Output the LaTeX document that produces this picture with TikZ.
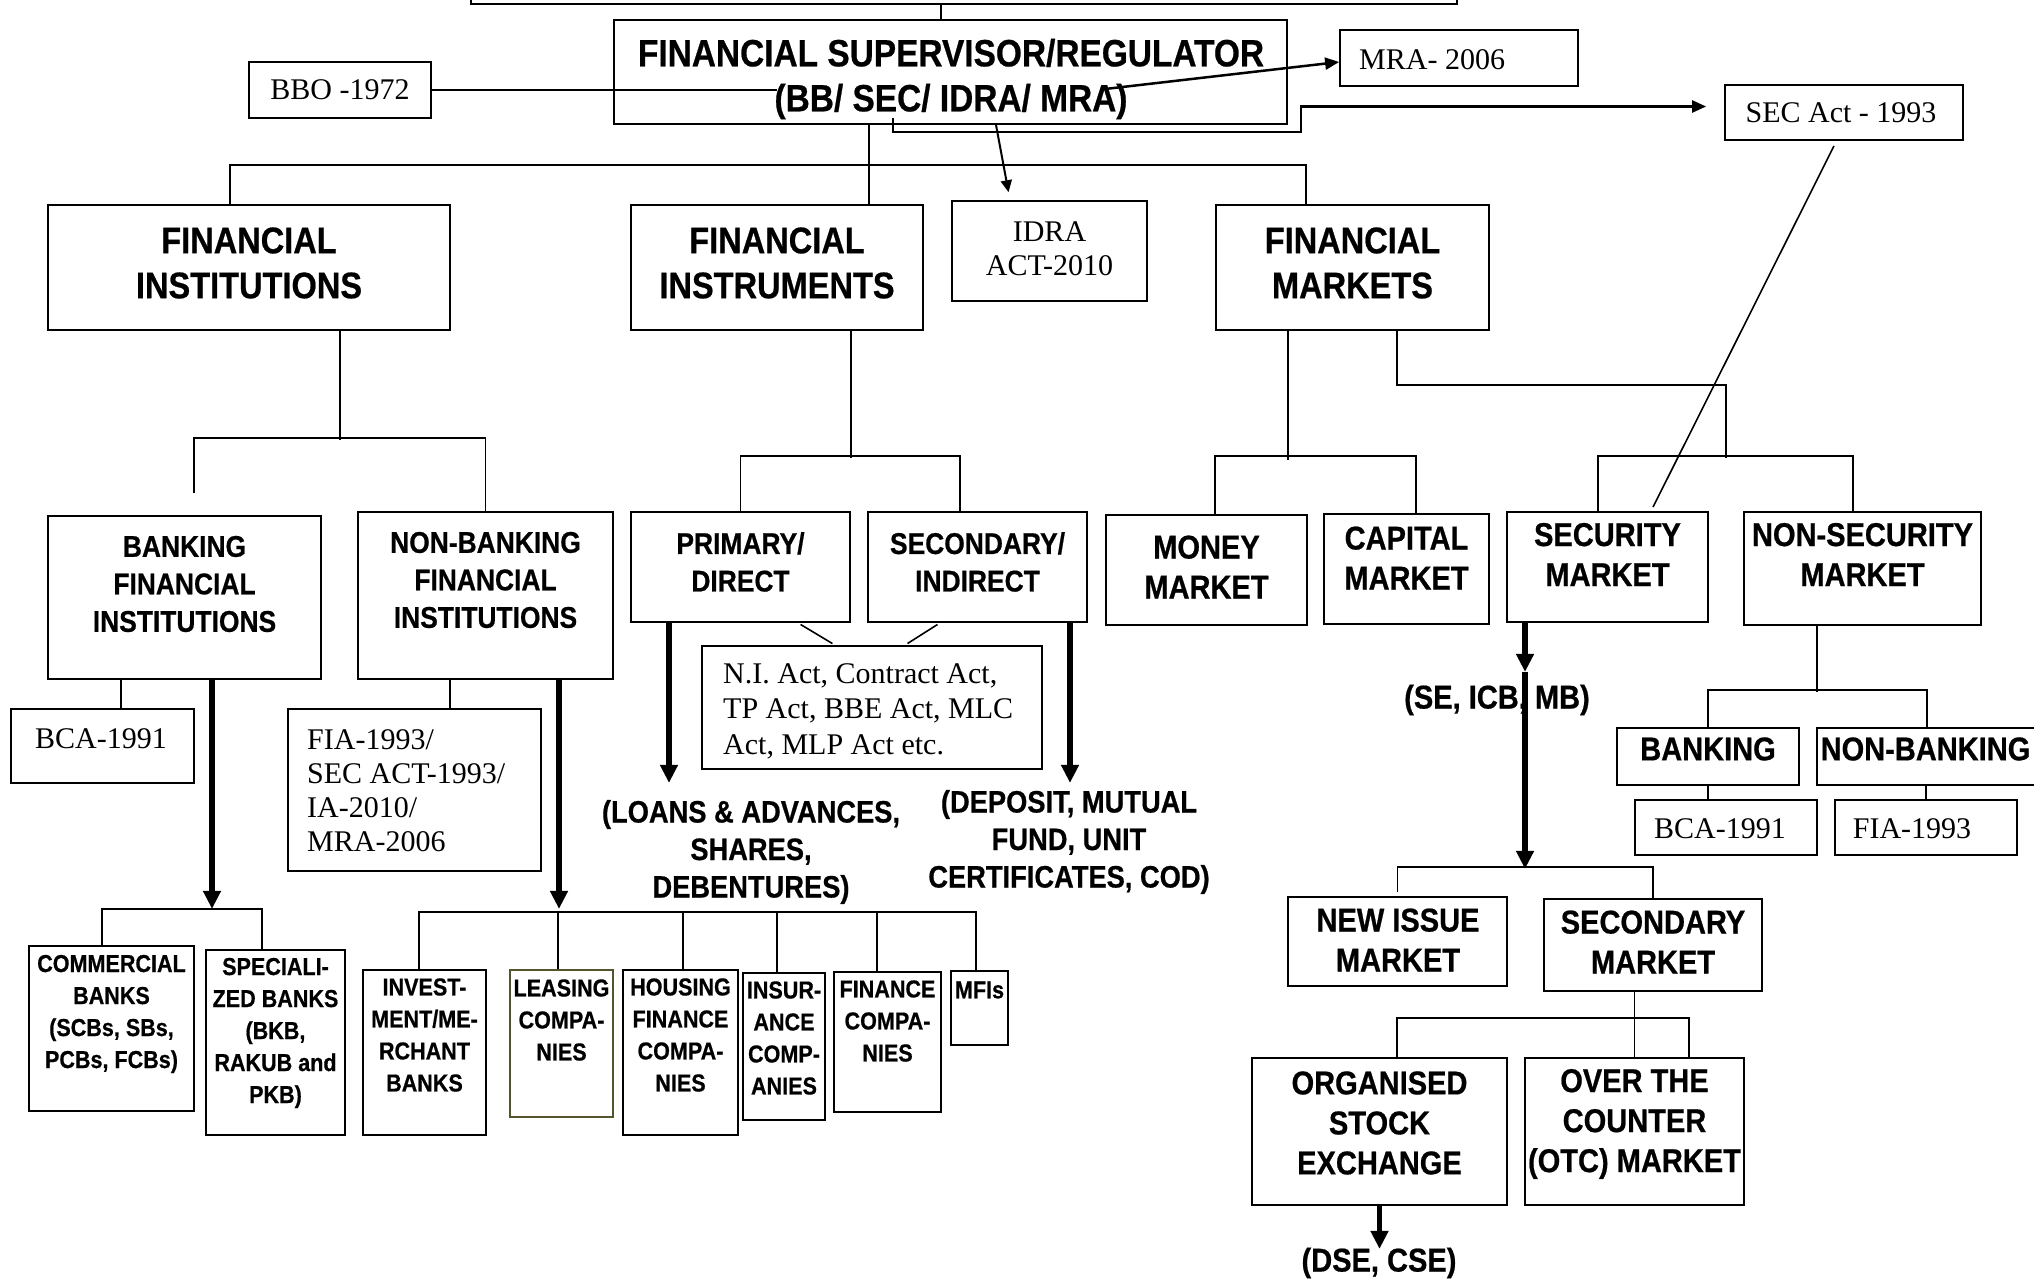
\documentclass[tikz,border=0pt]{standalone}
\usepackage{fontspec}
\setmainfont{Liberation Serif}
\newfontfamily\hvb[FakeStretch=0.88, FakeBold=0.6]{Liberation Sans}
\usetikzlibrary{arrows.meta}
\definecolor{leaseedge}{RGB}{85,85,45}

\begin{document}
\begin{tikzpicture}[x=1pt, y=-1pt,
    box/.style={draw, line width=1.8pt, inner sep=0pt},
    link/.style={line width=1.6pt},
    thk/.style={line width=5.5pt, -{Triangle[length=18pt, width=17pt]}},
    arr/.style={line width=2.5pt, -{Triangle[length=14pt, width=12pt]}},
    arrs/.style={line width=2pt, -{Triangle[length=12pt, width=11pt]}},
    supt/.style={font=\hvb\bfseries\fontsize{38}{45}\selectfont, align=center, inner sep=0pt},
    topt/.style={font=\hvb\bfseries\fontsize{37}{45}\selectfont, align=center, inner sep=0pt},
    midt/.style={font=\hvb\bfseries\fontsize{30}{37.5}\selectfont, align=center, inner sep=0pt},
    mkt/.style={font=\hvb\bfseries\fontsize{33}{40}\selectfont, align=center, inner sep=0pt},
    lbl/.style={font=\hvb\bfseries\fontsize{31}{37.5}\selectfont, align=center, inner sep=0pt},
    smt/.style={font=\hvb\bfseries\fontsize{24.5}{32}\selectfont, align=center, inner sep=0pt},
    act/.style={font=\fontsize{30}{34}\selectfont, align=center, inner sep=0pt}]
\useasboundingbox (0,0) rectangle (2034,1279);

% regulator and acts
\node[box, minimum width=986pt, minimum height=44pt] (prev) at (964,-18) {};
\node[box, minimum width=673pt, minimum height=104pt] (sup) at (950.5,72) {};
\node[supt] (sup-t) at (951,79) {FINANCIAL SUPERVISOR/REGULATOR\\(BB/ SEC/ IDRA/ MRA)};
\node[box, minimum width=182pt, minimum height=56pt] (bbo) at (340,90) {};
\node[act] (bbo-t) at (340,90) {BBO -1972};
\node[box, minimum width=238pt, minimum height=56pt] (mra) at (1459,58) {};
\node[act, anchor=west] (mra-t) at (1359,60) {MRA- 2006};
\node[box, minimum width=238pt, minimum height=55pt] (secact) at (1844,112.5) {};
\node[act] (secact-t) at (1841,113) {SEC Act - 1993};
\node[box, minimum width=195pt, minimum height=100pt] (idra) at (1049.5,251) {};
\node[act] (idra-t) at (1049.5,249) {IDRA\\ACT-2010};
\coordinate (sup-bb) at (777,90);
\coordinate (sup-mra) at (1105,89);
\coordinate (sup-sec) at (893,118);

% first level
\node[box, minimum width=402pt, minimum height=125pt] (fi) at (249,267.5) {};
\node[topt] (fi-t) at (249,263) {FINANCIAL\\INSTITUTIONS};
\node[box, minimum width=292pt, minimum height=125pt] (finstr) at (777,267.5) {};
\node[topt] (finstr-t) at (777,263) {FINANCIAL\\INSTRUMENTS};
\node[box, minimum width=273pt, minimum height=125pt] (fmk) at (1352.5,267.5) {};
\node[topt] (fmk-t) at (1352.5,263) {FINANCIAL\\MARKETS};

% second level
\node[box, minimum width=273pt, minimum height=163pt] (bfi) at (184.5,597.5) {};
\node[midt] (bfi-t) at (184.5,584) {BANKING\\FINANCIAL\\INSTITUTIONS};
\node[box, minimum width=255pt, minimum height=167pt] (nbfi) at (485.5,595.5) {};
\node[midt] (nbfi-t) at (485.5,580) {NON-BANKING\\FINANCIAL\\INSTITUTIONS};
\node[box, minimum width=219pt, minimum height=110pt] (prim) at (740.5,567) {};
\node[midt] (prim-t) at (740.5,562) {PRIMARY/\\DIRECT};
\node[box, minimum width=219pt, minimum height=110pt] (secd) at (977.5,567) {};
\node[midt] (secd-t) at (977.5,562) {SECONDARY/\\INDIRECT};
\node[box, minimum width=201pt, minimum height=110pt] (money) at (1206.5,570) {};
\node[mkt] (money-t) at (1206.5,567) {MONEY\\MARKET};
\node[box, minimum width=165pt, minimum height=110pt] (capm) at (1406.5,569) {};
\node[mkt] (capm-t) at (1406.5,558) {CAPITAL\\MARKET};
\node[box, minimum width=201pt, minimum height=110pt] (secm) at (1607.5,567) {};
\node[mkt] (secm-t) at (1607.5,554.5) {SECURITY\\MARKET};
\node[box, minimum width=237pt, minimum height=113pt] (nsecm) at (1862.5,568.5) {};
\node[mkt] (nsecm-t) at (1862.5,554.5) {NON-SECURITY\\MARKET};

% laws under the boxes
\node[box, minimum width=340pt, minimum height=123pt] (niact) at (872,707.5) {};
\node[act, align=left, anchor=west, font=\fontsize{30}{35.5}\selectfont] (niact-t) at (723,711) {N.I. Act, Contract Act,\\TP Act, BBE Act, MLC\\Act, MLP Act etc.};
\node[box, minimum width=183pt, minimum height=74pt] (bcal) at (102.5,746) {};
\node[act, anchor=west] (bcal-t) at (35,739) {BCA-1991};
\node[box, minimum width=253pt, minimum height=162pt] (fia) at (414.5,790) {};
\node[act, align=left, anchor=west] (fia-t) at (307,791) {FIA-1993/\\SEC ACT-1993/\\IA-2010/\\MRA-2006};
\node[box, minimum width=182pt, minimum height=57pt] (bank) at (1708,756.5) {};
\node[mkt] (bank-t) at (1708,749) {BANKING};
\node[box, minimum width=223pt, minimum height=57pt] (nbank) at (1928.5,756.5) {};
\node[mkt] (nbank-t) at (1925.5,749) {NON-BANKING};
\node[box, minimum width=182pt, minimum height=55pt] (bcar) at (1726,827.5) {};
\node[act] (bcar-t) at (1720,829) {BCA-1991};
\node[box, minimum width=182pt, minimum height=55pt] (fiar) at (1926,827.5) {};
\node[act] (fiar-t) at (1912,829) {FIA-1993};

% free labels
\node[lbl] (loans) at (751,852) {(LOANS \& ADVANCES,\\SHARES,\\DEBENTURES)};
\node[lbl] (depo) at (1069,842) {(DEPOSIT, MUTUAL\\FUND, UNIT\\CERTIFICATES, COD)};
\node[mkt] (semb) at (1497,700) {(SE, ICB, MB)};
\node[mkt] (dse) at (1379,1263) {(DSE, CSE)};

% security market branch
\node[box, minimum width=219pt, minimum height=89pt] (newi) at (1397.5,941.5) {};
\node[mkt] (newi-t) at (1398,940) {NEW ISSUE\\MARKET};
\node[box, minimum width=218pt, minimum height=92pt] (secmk) at (1653,945) {};
\node[mkt] (secmk-t) at (1653,942) {SECONDARY\\MARKET};
\node[box, minimum width=255pt, minimum height=147pt] (org) at (1379.5,1131.5) {};
\node[mkt] (org-t) at (1379.5,1123) {ORGANISED\\STOCK\\EXCHANGE};
\node[box, minimum width=219pt, minimum height=147pt] (otc) at (1634.5,1131.5) {};
\node[mkt] (otc-t) at (1634.5,1124) {OVER THE\\COUNTER\\(OTC) MARKET};

% bottom row
\node[box, minimum width=165pt, minimum height=165pt] (comm) at (111.5,1028.5) {};
\node[smt] (comm-t) at (111.5,1014) {COMMERCIAL\\BANKS\\(SCBs, SBs,\\PCBs, FCBs)};
\node[box, minimum width=139pt, minimum height=185pt] (spec) at (275.5,1042.5) {};
\node[smt] (spec-t) at (275.5,1033) {SPECIALI-\\ZED BANKS\\(BKB,\\RAKUB and\\PKB)};
\node[box, minimum width=123pt, minimum height=165pt] (inv) at (424.5,1052.5) {};
\node[smt] (inv-t) at (424.5,1035) {INVEST-\\MENT/ME-\\RCHANT\\BANKS};
\node[box, draw=leaseedge, minimum width=103pt, minimum height=147pt] (lease) at (561.5,1043.5) {};
\node[smt] (lease-t) at (561.5,1020) {LEASING\\COMPA-\\NIES};
\node[box, minimum width=115pt, minimum height=165pt] (hous) at (680.5,1052.5) {};
\node[smt] (hous-t) at (680.5,1035) {HOUSING\\FINANCE\\COMPA-\\NIES};
\node[box, minimum width=82pt, minimum height=147pt] (insur) at (784,1046.5) {};
\node[smt] (insur-t) at (784,1038) {INSUR-\\ANCE\\COMP-\\ANIES};
\node[box, minimum width=107pt, minimum height=140pt] (finco) at (887.5,1042) {};
\node[smt] (finco-t) at (887.5,1021) {FINANCE\\COMPA-\\NIES};
\node[box, minimum width=57pt, minimum height=74pt] (mfi) at (979.5,1008) {};
\node[smt] (mfi-t) at (979.5,990) {MFIs};

% regulator connectors
\draw[link] (prev.south -| 941,0) -- (sup.north -| 941,0);
\draw[link] (bbo.east) -- (sup-bb);
\draw[arr] (sup-mra) -- ([yshift=-4pt]mra.west);
\draw[arr, shorten >=18pt] (sup-sec) |- (1301,132) |- ([yshift=6pt]secact.west);
\draw[arrs, shorten >=8pt] (sup.south -| 996,0) -- (idra.north -| 1010,0);

% main tree
\draw[link] (sup.south -| 869,0) -- (finstr.north -| 869,0);
\draw[link] (fi.north -| 230,0) -- ++(0,-39) -| (fmk.north -| 1306,0);
\draw[link] (fi.south -| 340,0) -- ++(0,109);
\draw[link] (bfi.north -| 194,0) ++(0,-22) -- ++(0,-55) -| (nbfi.north);
\draw[link] (finstr.south -| 851,0) -- ++(0,127);
\draw[link] (prim.north) -- ++(0,-55) -| (secd.north -| 960,0);
\draw[link] (fmk.south -| 1288,0) -- ++(0,129);
\draw[link] (money.north -| 1215,0) -- ++(0,-58) -| (capm.north -| 1416,0);
\draw[link] (fmk.south -| 1397,0) -- ++(0,54) -- ++(329,0) -- ++(0,73);
\draw[link] (secm.north -| 1598,0) -- ++(0,-55) -| (nsecm.north -| 1853,0);
\draw[link] ([xshift=-10pt,yshift=-5pt]secact.south) -- ([xshift=45.5pt,yshift=4pt]secm.north);

% markets
\draw[link] (nsecm.south -| 1817,0) -- ++(0,66);
\draw[link] (bank.north) -- ++(0,-37) -| (nbank.north -| 1927,0);
\draw[link] (bank.south) -- (bcar.north -| bank.south);
\draw[link] (nbank.south -| fiar.north) -- (fiar.north);
\draw[thk] (secm.south -| 1525,0) -- ++(0,49);
\draw[thk] (secm.south -| 1525,0) ++(0,49) -- ++(0,197);
\draw[link] (newi.north) ++(0,-4) -- ++(0,-25) -| (secmk.north);
\draw[link] (secmk.south -| otc.north) -- (otc.north);
\draw[link] (org.north -| 1397,0) -- ++(0,-39) -| (otc.north -| 1689,0);
\draw[thk] (org.south) -- ++(0,43);

% instruments
\draw[thk] (prim.south -| 669,0) -- ++(0,160);
\draw[thk] (secd.south -| 1070,0) -- ++(0,160);
\draw[link, shorten <=3pt, shorten >=3pt] (prim.south -| 798,0) -- (niact.north -| 835,0);
\draw[link, shorten <=3pt, shorten >=3pt] (secd.south -| 940,0) -- (niact.north -| 905,0);

% institutions
\draw[link] (bfi.south -| 121,0) -- (bcal.north -| 121,0);
\draw[link] (nbfi.south -| 450,0) -- (fia.north -| 450,0);
\draw[thk] (bfi.south -| 212,0) -- ++(0,229);
\draw[thk] (nbfi.south -| 559,0) -- ++(0,229);
\draw[link] (comm.north -| 102,0) -- ++(0,-36) -| (spec.north -| 262,0);
\draw[link] (inv.north -| 419,0) -- ++(0,-57) -| (mfi.north -| 976,0);
\foreach \n/\x/\h in {lease/558/57, hous/683/57, insur/777/60, finco/877/59}
  \draw[link] (\n.north -| \x,0) -- ++(0,-\h);
\end{tikzpicture}
\end{document}
